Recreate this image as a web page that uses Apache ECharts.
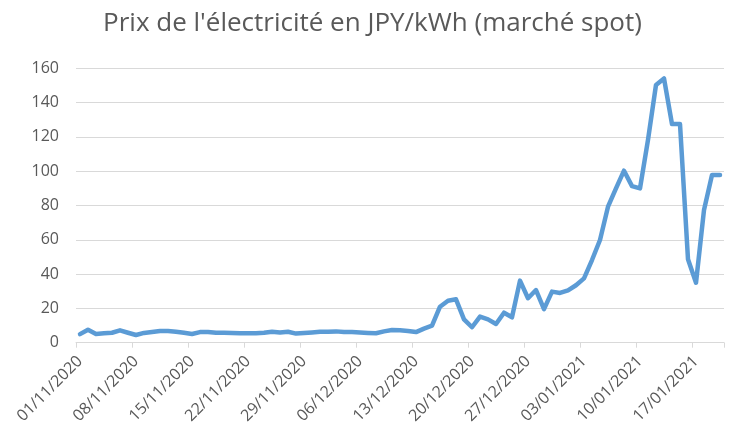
<!DOCTYPE html>
<html>
<head>
<meta charset="utf-8">
<script src="https://cdn.jsdelivr.net/npm/echarts@6/dist/echarts.min.js"></script>
<style>html,body{margin:0;padding:0;background:#fff;}#c{width:745px;height:444px;}</style>
</head>
<body>
<div id="c"></div>
<script>
var titleText = "Prix de l'électricité en JPY/kWh (marché spot)";
// Daily dates 01/11/2020 .. 20/01/2021
var startDate = new Date(Date.UTC(2020, 10, 1));
var dayCount = 81;
var dates = [];
for (var i = 0; i < dayCount; i++) {
  var d = new Date(startDate.getTime() + i * 86400000);
  var dd = String(d.getUTCDate()).padStart(2, '0');
  var mm = String(d.getUTCMonth() + 1).padStart(2, '0');
  dates.push(dd + '/' + mm + '/' + d.getUTCFullYear());
}
var prices = [
  5.0, 7.6, 5.1, 5.5, 5.8, 7.2, 5.8, 4.5, 5.7, 6.2,
  6.8, 6.8, 6.4, 5.8, 5.1, 6.2, 6.2, 5.8, 5.8, 5.7,
  5.5, 5.5, 5.5, 5.8, 6.4, 6.0, 6.4, 5.3, 5.7, 6.0,
  6.4, 6.4, 6.6, 6.2, 6.2, 6.0, 5.7, 5.5, 6.6, 7.4,
  7.2, 6.8, 6.2, 8.2, 9.9, 21.0, 24.5, 25.3, 13.6, 9.0,
  15.2, 13.6, 10.9, 17.5, 14.8, 36.2, 25.9, 30.7, 19.6, 29.8,
  29.0, 30.5, 33.5, 37.5, 48.2, 59.9, 79.3, 90.0, 100.3, 91.3,
  90.0, 118.2, 150.3, 154.1, 127.5, 127.5, 48.6, 35.0, 77.4, 97.8,
  97.8
];
var yTicks = {min: 0, max: 160, step: 20};

var chart = echarts.init(document.getElementById('c'), null, {renderer: 'canvas'});
chart.setOption({
  animation: false,
  backgroundColor: '#ffffff',
  title: {
    text: titleText,
    left: 'center',
    top: 6,
    textStyle: {fontFamily: 'Open Sans', fontSize: 26, fontWeight: 'normal', color: '#595959'}
  },
  grid: {left: 76, right: 21, top: 68.3, bottom: 101.3, containLabel: false},
  xAxis: {
    type: 'category',
    data: dates,
    boundaryGap: true,
    axisLine: {lineStyle: {color: '#d9d9d9', width: 1}},
    axisTick: {show: true, length: 5, lineStyle: {color: '#d9d9d9'}, interval: function (idx) { return idx % 7 === 0; }},
    axisLabel: {
      interval: function (idx) { return idx % 7 === 0; },
      rotate: 45,
      margin: 16,
      fontFamily: 'Open Sans',
      fontSize: 16,
      color: '#595959'
    },
    splitLine: {show: false}
  },
  yAxis: {
    type: 'value',
    min: yTicks.min,
    max: yTicks.max,
    interval: yTicks.step,
    axisLine: {show: false},
    axisTick: {show: false},
    axisLabel: {margin: 17, fontFamily: 'Open Sans', fontSize: 16, color: '#595959'},
    splitLine: {lineStyle: {color: '#d9d9d9', width: 1}}
  },
  series: [{
    type: 'line',
    data: prices,
    showSymbol: false,
    smooth: false,
    lineStyle: {color: '#5b9bd5', width: 4.5, cap: 'round', join: 'round'},
    itemStyle: {color: '#5b9bd5'}
  }]
});
</script>
</body>
</html>
